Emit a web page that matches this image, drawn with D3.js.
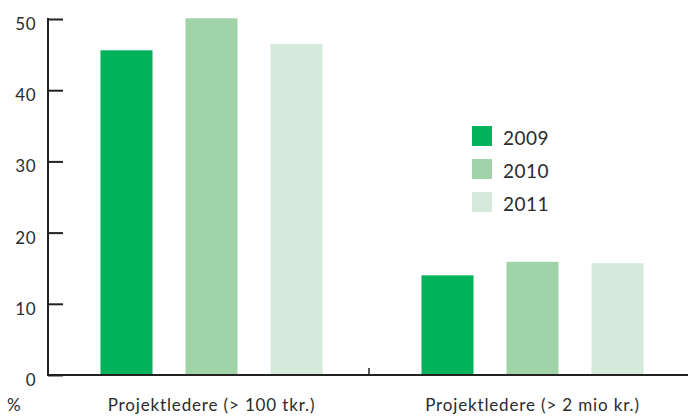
<!DOCTYPE html>
<html><head><meta charset="utf-8">
<script src="https://cdn.jsdelivr.net/npm/d3@7"></script>
<style>body{margin:0;background:#fff}svg{display:block}text{font-family:Lato,"Open Sans",sans-serif;fill:#2b2b2b}</style>
</head><body>
<svg id="c" width="688" height="416"></svg>
<script>
const categories = ["Projektledere (> 100 tkr.)", "Projektledere (> 2 mio kr.)"];
const years = ["2009", "2010", "2011"];
const values2009 = [45.6, 14.0];
const values2010 = [50.1, 15.9];
const values2011 = [46.5, 15.7];
const yTicks = [0, 10, 20, 30, 40, 50];
const colors = ["#00b25a", "#a0d3a8", "#d5eadb"];
const series = [values2009, values2010, values2011];

const svg = d3.select("#c");
const mLeft = 48, mRight = 690, mTop = 19, mBottom = 375;
const y = d3.scaleLinear().domain([0, 50]).range([mBottom, mTop]);
const x0 = d3.scaleBand().domain(categories).range([mLeft, mRight]);
const x1 = d3.scaleBand().domain(years).range([0, 222]).paddingInner(33/85);

// bars
categories.forEach((c, ci) => {
  const gx = x0(c) + x0.bandwidth()/2 - 111 + 3;
  svg.selectAll(null).data(years).enter().append("rect")
    .attr("x", d => gx + x1(d))
    .attr("width", x1.bandwidth())
    .attr("y", (d, i) => y(series[i][ci]))
    .attr("height", (d, i) => mBottom - y(series[i][ci]))
    .attr("fill", (d, i) => colors[i]);
});

// y axis
const ya = svg.append("g").attr("transform", `translate(${mLeft},0)`)
  .call(d3.axisRight(y).tickValues(yTicks).tickSize(15).tickFormat(""));
ya.select(".domain").remove();
ya.selectAll("line").attr("stroke", "#222").attr("stroke-width", 2);
svg.append("line").attr("x1", mLeft).attr("x2", mLeft).attr("y1", y(50) - 1).attr("y2", mBottom)
  .attr("stroke", "#222").attr("stroke-width", 2);
svg.selectAll(".yl").data(yTicks).enter().append("text")
  .attr("x", 36).attr("y", d => y(d) + 11)
  .attr("text-anchor", "end").attr("font-size", 17).attr("letter-spacing", 0.5).text(d => d);

// x axis
svg.append("line").attr("x1", mLeft - 1).attr("x2", 688).attr("y1", mBottom).attr("y2", mBottom)
  .attr("stroke", "#222").attr("stroke-width", 2);
svg.append("line").attr("x1", x0(categories[1])).attr("x2", x0(categories[1]))
  .attr("y1", mBottom).attr("y2", mBottom - 7).attr("stroke", "#222").attr("stroke-width", 1.5);
svg.selectAll(".xl").data(categories).enter().append("text")
  .attr("x", d => x0(d) + x0.bandwidth()/2 + 3).attr("y", 411)
  .attr("text-anchor", "middle").attr("font-size", 17).attr("letter-spacing", 0.85).text(d => d);
svg.append("text").attr("x", 7).attr("y", 411).attr("font-size", 17).text("%");

// legend
const lg = svg.append("g");
years.forEach((yr, i) => {
  lg.append("rect").attr("x", 472).attr("y", 126 + i*33).attr("width", 20).attr("height", 20).attr("fill", colors[i]);
  lg.append("text").attr("x", 503).attr("y", 145 + i*33).attr("font-size", 19).attr("letter-spacing", 0.5).text(yr);
});
</script>
</body></html>
